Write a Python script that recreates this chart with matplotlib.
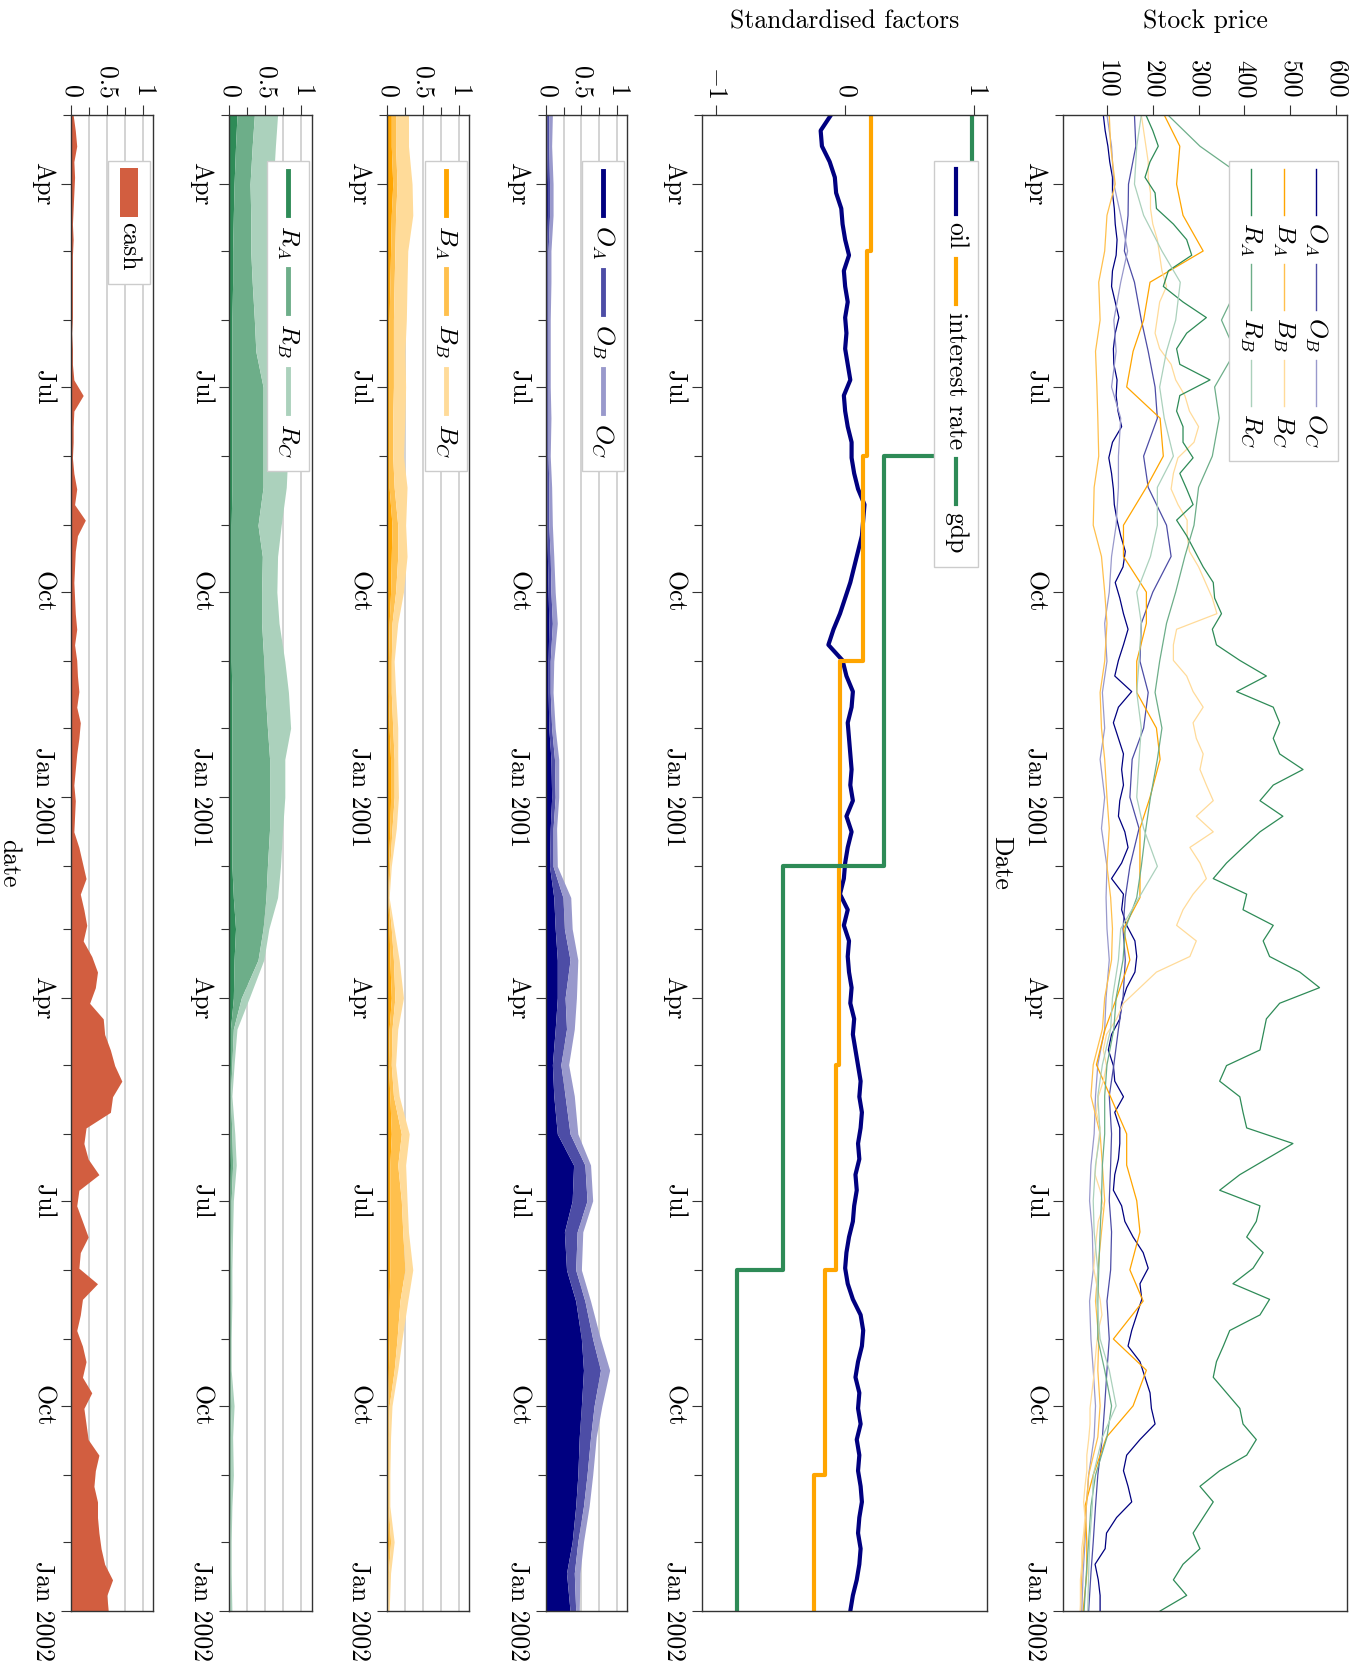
import numpy as np
import pandas as pd
import matplotlib
matplotlib.use('Agg')
import matplotlib.pyplot as plt
import matplotlib.dates as mdates
import matplotlib.transforms as mtransforms
from matplotlib.lines import Line2D
from matplotlib.patches import Rectangle

plt.rcParams['font.family'] = 'cmr10'
plt.rcParams['mathtext.fontset'] = 'cm'
plt.rcParams['axes.formatter.use_mathtext'] = True
plt.rcParams['font.size'] = 18.5

# ---- time grids -------------------------------------------------------
weeks = pd.date_range('2000-03-01', '2002-01-01', periods=97)
starts = pd.date_range('2000-03-01', '2002-01-01', freq='MS')
halfmonths = starts.union(starts[:-1] + pd.Timedelta(days=14))

# ---- stock prices (weekly) --------------------------------------------
price_RA = [185, 200, 212, 194, 183, 205, 208, 245, 274, 285,
            234, 223, 266, 317, 274, 252, 259, 325, 259, 252,
            266, 266, 288, 259, 274, 288, 252, 274, 292, 310,
            332, 335, 350, 330, 339, 390, 448, 383, 463, 477,
            463, 477, 528, 463, 434, 484, 434, 397, 361, 332,
            405, 397, 463, 441, 455, 521, 564, 477, 448, 441,
            434, 361, 346, 390, 397, 405, 506, 448, 390, 346,
            434, 426, 405, 441, 419, 375, 455, 434, 368, 354,
            339, 332, 361, 390, 397, 426, 405, 346, 303, 332,
            310, 288, 303, 266, 245, 274, 216]
price_OA = [92, 96, 102, 106, 112, 112, 116, 118, 122, 120,
            112, 110, 118, 126, 118, 114, 115, 122, 120, 124,
            132, 112, 104, 110, 114, 116, 122, 130, 140, 135,
            118, 128, 136, 146, 136, 125, 117, 154, 125, 114,
            125, 136, 132, 136, 128, 125, 139, 146, 132, 110,
            136, 132, 143, 161, 165, 161, 143, 132, 128, 110,
            103, 114, 117, 136, 117, 128, 128, 125, 117, 114,
            132, 139, 157, 179, 190, 172, 176, 165, 154, 146,
            172, 183, 194, 197, 205, 172, 143, 136, 146, 154,
            121, 99, 96, 74, 81, 85, 85]
price_BC = [175, 180, 185, 190, 190, 195, 195, 200, 210, 215,
            220, 230, 215, 210, 205, 215, 240, 250, 270, 280,
            300, 290, 255, 245, 240, 255, 275, 275, 280, 300,
            315, 330, 340, 252, 245, 245, 274, 288, 310, 288,
            295, 310, 303, 317, 332, 295, 332, 281, 303, 317,
            288, 266, 252, 295, 281, 208, 172, 136, 121, 99,
            92, 99, 92, 81, 77, 85, 81, 77, 74, 85,
            92, 81, 77, 74, 71, 77, 85, 89, 81, 77,
            74, 71, 67, 63, 63, 60, 56, 56, 52, 49,
            52, 49, 45, 45, 42, 42, 42]

# ---- stock prices (1st and 15th of each month) ------------------------
price_OB = [160, 163, 147, 146, 138, 160, 175, 190, 205, 210, 180, 190, 230, 240, 200,
            175, 172, 190, 180, 155, 150, 170, 150, 140, 135, 140, 135, 125, 115, 105,
            110, 108, 105, 110, 108, 100, 105, 100, 95, 90, 80, 75, 70, 65, 60]
price_OC = [100, 110, 115, 130, 145, 130, 115, 120, 110, 130, 125, 125, 120, 110, 105,
            95, 100, 90, 95, 85, 95, 88, 100, 98, 100, 105, 98, 95, 80, 75,
            72, 65, 62, 68, 70, 62, 65, 70, 75, 72, 60, 55, 52, 48, 45]
price_BA = [225, 259, 252, 266, 310, 194, 180, 157, 143, 216, 223, 186, 136, 136, 186,
            186, 165, 165, 208, 216, 194, 172, 172, 172, 136, 150, 121, 96, 77, 107,
            143, 143, 165, 172, 150, 179, 114, 186, 157, 99, 70, 52, 56, 56, 48]
price_BB = [105, 108, 118, 100, 95, 82, 85, 75, 78, 80, 82, 72, 70, 88, 95,
            100, 95, 85, 88, 95, 100, 105, 100, 108, 112, 110, 95, 90, 70, 65,
            85, 90, 95, 88, 80, 75, 82, 80, 85, 80, 60, 55, 50, 45, 42]
price_RB = [233, 303, 420, 400, 430, 390, 350, 380, 335, 345, 330, 300, 290, 270, 250,
            230, 215, 205, 220, 210, 195, 185, 175, 165, 140, 135, 120, 115, 100, 95,
            95, 90, 88, 85, 82, 80, 80, 95, 110, 100, 75, 65, 60, 55, 50]
price_RC = [175, 165, 160, 180, 220, 260, 250, 230, 215, 225, 245, 210, 210, 195, 165,
            175, 170, 165, 175, 170, 165, 180, 210, 170, 130, 125, 112, 108, 90, 80,
            85, 75, 70, 72, 80, 78, 85, 105, 120, 90, 70, 68, 62, 60, 58]

# ---- standardised factors ---------------------------------------------
oil = [-0.11, -0.19, -0.18, -0.12, -0.08, -0.07, -0.03, -0.02, 0.00, 0.03,
       -0.01, 0.00, 0.02, 0.00, 0.01, 0.00, 0.02, 0.04, -0.01, 0.00,
       0.02, 0.05, 0.05, 0.07, 0.10, 0.15, 0.14, 0.13, 0.10, 0.07,
       0.04, 0.00, -0.04, -0.09, -0.13, -0.02, 0.01, 0.06, 0.05, 0.02,
       0.03, 0.04, 0.05, 0.04, 0.06, 0.01, 0.05, 0.02, 0.00, -0.01,
       -0.04, 0.02, -0.01, 0.03, 0.02, 0.03, 0.05, 0.04, 0.07, 0.06,
       0.08, 0.10, 0.12, 0.11, 0.13, 0.12, 0.10, 0.11, 0.08, 0.09,
       0.07, 0.06, 0.03, 0.01, 0.00, 0.02, 0.06, 0.12, 0.14, 0.13,
       0.10, 0.08, 0.11, 0.10, 0.12, 0.09, 0.11, 0.10, 0.12, 0.13,
       0.11, 0.10, 0.12, 0.11, 0.09, 0.06, 0.04]
rate_dates = pd.to_datetime(['2000-03-01', '2000-05-01', '2000-08-01', '2000-11-01',
                             '2001-02-01', '2001-05-01', '2001-08-01', '2001-11-01',
                             '2002-01-01'])
rate = [0.20, 0.17, 0.14, -0.04, -0.05, -0.07, -0.16, -0.24, -0.24]
gdp_dates = pd.to_datetime(['2000-03-01', '2000-08-01', '2001-02-01', '2001-08-01', '2002-01-01'])
gdp = [0.98, 0.30, -0.48, -0.84, -0.84]

# ---- portfolio weights (1st and 15th of each month) -------------------
w_OA = [.01, .01, .02, .02, .01, .01, .01, .01, .01, .01, .01, .01, .01, .02, .03,
        .04, .03, .03, .04, .07, .08, .06, .05, .11, .13, .16, .16, .13, .09, .11,
        .16, .39, .37, .26, .29, .42, .50, .53, .50, .47, .45, .42, .37, .29, .34]
w_OB = [.03, .03, .03, .03, .02, .02, .02, .02, .02, .02, .02, .03, .03, .04, .04,
        .05, .03, .03, .04, .05, .05, .04, .05, .13, .13, .18, .11, .16, .12, .16,
        .18, .16, .21, .18, .13, .13, .16, .24, .18, .16, .13, .11, .08, .11, .08]
w_OC = [.05, .04, .05, .05, .04, .04, .03, .03, .03, .04, .03, .04, .05, .05, .06,
        .07, .05, .04, .05, .06, .05, .05, .06, .11, .11, .11, .16, .11, .11, .13,
        .11, .08, .08, .08, .08, .08, .11, .13, .11, .08, .08, .08, .08, .08, .05]
w_BA = [.06, .06, .08, .06, .05, .04, .03, .03, .03, .03, .03, .03, .07, .06, .05,
        .03, .02, .02, .03, .05, .05, .04, .02, .01, .03, .04, .06, .03, .02, .04,
        .06, .04, .04, .04, .04, .03, .03, .02, .01, .01, .01, .01, .02, .01, .00]
w_BB = [.06, .06, .06, .06, .06, .06, .06, .06, .06, .05, .05, .07, .08, .09, .07,
        .04, .04, .04, .05, .05, .05, .03, .02, .01, .03, .05, .05, .04, .04, .05,
        .14, .11, .16, .18, .21, .15, .11, .08, .02, .01, .01, .01, .03, .01, .01]
w_BC = [.18, .18, .21, .24, .18, .18, .18, .16, .17, .17, .15, .18, .11, .13, .11,
        .08, .04, .06, .07, .05, .06, .06, .02, .01, .04, .08, .12, .08, .06, .08,
        .11, .11, .08, .08, .11, .11, .07, .05, .04, .03, .02, .02, .05, .03, .02]
w_RA = [.11, .09, .07, .06, .05, .05, .04, .04, .04, .04, .04, .04, .03, .03, .03,
        .03, .03, .04, .04, .04, .04, .04, .04, .06, .09, .07, .06, .02, .02, .01,
        .01, .02, .01, .01, .01, .01, .01, .01, .01, .01, .01, .01, .00, .00, .00]
w_RB = [.24, .23, .22, .24, .25, .27, .31, .33, .43, .43, .43, .43, .37, .43, .42,
        .42, .45, .46, .49, .52, .52, .52, .49, .45, .38, .33, .11, .04, .02, .01,
        .03, .03, .02, .02, .01, .01, .01, .01, .02, .01, .01, .01, .01, .01, .01]
w_RC = [.32, .32, .32, .29, .29, .26, .26, .26, .26, .29, .34, .32, .32, .21, .21,
        .24, .29, .32, .32, .21, .21, .18, .18, .16, .08, .08, .11, .05, .03, .02,
        .04, .05, .03, .02, .02, .02, .01, .01, .04, .03, .04, .02, .02, .02, .03]
# cash weight (weekly)
w_cash = [0.03, 0.06, 0.08, 0.04, 0.05, 0.04, 0.03, 0.02, 0.03, 0.02,
          0.02, 0.02, 0.02, 0.02, 0.01, 0.02, 0.02, 0.04, 0.17, 0.04,
          0.03, 0.03, 0.02, 0.04, 0.08, 0.05, 0.20, 0.09, 0.06, 0.05,
          0.04, 0.05, 0.06, 0.08, 0.05, 0.08, 0.09, 0.11, 0.08, 0.13,
          0.11, 0.08, 0.06, 0.04, 0.06, 0.05, 0.04, 0.11, 0.16, 0.21,
          0.13, 0.18, 0.22, 0.17, 0.29, 0.37, 0.34, 0.26, 0.45, 0.47,
          0.55, 0.61, 0.71, 0.58, 0.55, 0.21, 0.18, 0.24, 0.39, 0.11,
          0.08, 0.16, 0.24, 0.13, 0.11, 0.37, 0.16, 0.13, 0.08, 0.16,
          0.21, 0.16, 0.29, 0.18, 0.21, 0.24, 0.39, 0.34, 0.32, 0.37,
          0.37, 0.39, 0.42, 0.47, 0.58, 0.50, 0.52]

# ---- colours ------------------------------------------------------------
navy = ['#000080', '#4d4da6', '#9999cc']
orange = ['#ffa500', '#ffc04d', '#ffdb99']
green = ['#2e8b57', '#6dae89', '#abd1bc']
cash_col = '#d25e40'

wk = mdates.date2num(weeks.to_pydatetime())
hm = mdates.date2num(halfmonths.to_pydatetime())
d_start = mdates.date2num(pd.Timestamp('2000-03-01'))
d_end = mdates.date2num(pd.Timestamp('2002-01-01'))

# quarter ticks with labels, monthly minor ticks
quarters = pd.date_range('2000-04-01', '2002-01-01', freq='QS')
q_ticks = mdates.date2num(quarters.to_pydatetime())
q_labels = [('Jan %d' % d.year) if d.month == 1 else d.strftime('%b') for d in quarters]
m_ticks = mdates.date2num(starts.to_pydatetime())

W, H = 1362, 1670
TOP, BOT = 115, 1611
fig = plt.figure(figsize=(W / 100, H / 100), dpi=100)
px = mtransforms.Affine2D().scale(1 / W, -1 / H).translate(0, 1) + fig.transFigure


def panel(x0, x1, xlim, ticks, labels, minor=None):
    ax = fig.add_axes([x0 / W, 1 - BOT / H, (x1 - x0) / W, (BOT - TOP) / H])
    ax.set_xlim(*xlim)
    ax.set_ylim(d_end, d_start)
    ax.xaxis.tick_top()
    ax.set_xticks(ticks, labels)
    if minor is not None:
        ax.set_xticks(minor, minor=True)
    ax.tick_params(axis='x', which='both', top=True, bottom=False, labelrotation=-90,
                   pad=5, width=0.8, color='#333333')
    ax.tick_params(axis='x', which='major', length=7)
    ax.tick_params(axis='x', which='minor', length=5.5)
    ax.set_yticks(q_ticks, q_labels, rotation=-90, va='center')
    ax.set_yticks(m_ticks, minor=True)
    ax.tick_params(axis='y', which='both', pad=4, width=0.8, color='#333333')
    ax.tick_params(axis='y', which='major', length=7.5)
    ax.tick_params(axis='y', which='minor', length=5.5)
    for s in ax.spines.values():
        s.set_color('#333333')
        s.set_linewidth(1.0)
    return ax


def stack(ax, series, colors):
    base = np.zeros(len(hm))
    for s, c in zip(series, colors):
        top = base + np.array(s)
        ax.fill_betweenx(hm, base, top, color=c, lw=0)
        base = top


frac_ticks = [0, 0.5, 1]
frac_labels = ['0', '0.5', '1']

# stock prices
ax_s = panel(1063, 1347, (4, 624), [100, 200, 300, 400, 500, 600],
             ['100', '200', '300', '400', '500', '600'])
ax_s.plot(price_OA, wk, color=navy[0], lw=0.9)
ax_s.plot(price_OB, hm, color=navy[1], lw=0.9)
ax_s.plot(price_OC, hm, color=navy[2], lw=0.9)
ax_s.plot(price_BA, hm, color=orange[0], lw=0.9)
ax_s.plot(price_BB, hm, color=orange[1], lw=0.9)
ax_s.plot(price_BC, wk, color=orange[2], lw=0.9)
ax_s.plot(price_RA, wk, color=green[0], lw=0.9)
ax_s.plot(price_RB, hm, color=green[1], lw=0.9)
ax_s.plot(price_RC, hm, color=green[2], lw=0.9)
ax_s.xaxis.set_label_position('top')
ax_s.set_xlabel('Stock price', va='center')
ax_s.xaxis.set_label_coords(0.5, 1 + (TOP - 21.5) / (BOT - TOP))
ax_s.set_ylabel('Date', rotation=-90, va='center', ha='center')
ax_s.yaxis.set_label_coords((1001 - 1063) / 284, 0.5)

# factors; the value is the x coordinate, so 'steps-pre' holds it until the next date
ax_f = panel(702, 987, (-1.11, 1.10), [-1, 0, 1], ['$-1$', '0', '1'])
ax_f.plot(oil, wk, color=navy[0], lw=3)
ax_f.plot(rate, mdates.date2num(rate_dates.to_pydatetime()), color=orange[0], lw=3,
          drawstyle='steps-pre')
ax_f.plot(gdp, mdates.date2num(gdp_dates.to_pydatetime()), color=green[0], lw=3,
          drawstyle='steps-pre')
ax_f.xaxis.set_label_position('top')
ax_f.set_xlabel('Standardised factors', va='center')
ax_f.xaxis.set_label_coords(0.5, 1 + (TOP - 21.5) / (BOT - TOP))

# allocation panels
ax_o = panel(546, 627, (0, 1.145), frac_ticks, frac_labels, minor=[0.25, 0.75])
ax_b = panel(387, 469, (0, 1.145), frac_ticks, frac_labels, minor=[0.25, 0.75])
ax_r = panel(229, 312, (0, 1.145), frac_ticks, frac_labels, minor=[0.25, 0.75])
ax_c = panel(71, 153, (0, 1.145), frac_ticks, frac_labels, minor=[0.25, 0.75])
for ax in (ax_o, ax_b, ax_r, ax_c):
    ax.grid(axis='x', which='both', color='#cccccc', lw=1.2)
    ax.set_axisbelow(True)
stack(ax_o, [w_OA, w_OB, w_OC], navy)
stack(ax_b, [w_BA, w_BB, w_BC], orange)
stack(ax_r, [w_RA, w_RB, w_RC], green)
ax_c.fill_betweenx(wk, 0, w_cash, color=cash_col, lw=0)
ax_c.set_ylabel('date', rotation=-90, va='center', ha='center')
ax_c.yaxis.set_label_coords((9 - 71) / 82, 0.5)

# ---- legends, laid out along the date direction -------------------------
rend = fig.canvas.get_renderer()


def side_legend(right, top, rows, kind='line', lw=1.0, inset=22, step=32.5,
                hlen=46, gap=5, sep=6, pad0=8, pad1=13):
    ncol = max(len(r) for r in rows)
    texts = [[fig.text(0, 0, lab, transform=px, rotation=-90, ha='center', va='top',
                       zorder=6) for lab, _ in r] for r in rows]
    lens = [max(texts[i][j].get_window_extent(rend).height
                for i in range(len(rows)) if j < len(rows[i])) for j in range(ncol)]
    y = top + pad0
    ys = []
    for j in range(ncol):
        ys.append(y)
        y += hlen + gap + lens[j] + sep
    bottom = y - sep + pad1
    left = right - 2 * inset - (len(rows) - 1) * step
    fig.add_artist(Rectangle((left, top), right - left, bottom - top, transform=px,
                             fc='white', ec='#cccccc', lw=1.0, zorder=4))
    for i, r in enumerate(rows):
        xc = right - inset - i * step
        for j, (lab, col) in enumerate(r):
            y0 = ys[j]
            if kind == 'line':
                fig.add_artist(Line2D([xc, xc], [y0, y0 + hlen], transform=px,
                                      color=col, lw=lw, zorder=5))
            else:
                fig.add_artist(Rectangle((xc - 9, y0), 18, hlen, transform=px,
                                         fc=col, lw=0, zorder=5))
            texts[i][j].set_position((xc, y0 + hlen + gap))


side_legend(1338, 161, [[('$O_A$', navy[0]), ('$O_B$', navy[1]), ('$O_C$', navy[2])],
                        [('$B_A$', orange[0]), ('$B_B$', orange[1]), ('$B_C$', orange[2])],
                        [('$R_A$', green[0]), ('$R_B$', green[1]), ('$R_C$', green[2])]],
            lw=1.0, gap=7, sep=7.5)
side_legend(978, 161, [[('oil', navy[0]), ('interest rate', orange[0]), ('gdp', green[0])]],
            lw=3, hlen=45, gap=8, sep=10)
side_legend(624, 161, [[('$O_A$', navy[0]), ('$O_B$', navy[1]), ('$O_C$', navy[2])]],
            lw=3.5, inset=21, hlen=44, pad0=10, gap=10, sep=10)
side_legend(467, 161, [[('$B_A$', orange[0]), ('$B_B$', orange[1]), ('$B_C$', orange[2])]],
            lw=3.5, inset=21, hlen=44, pad0=10, gap=10, sep=10)
side_legend(309, 161, [[('$R_A$', green[0]), ('$R_B$', green[1]), ('$R_C$', green[2])]],
            lw=3.5, inset=21, hlen=44, pad0=10, gap=10, sep=10)
side_legend(150, 161, [[('cash', cash_col)]], kind='patch', inset=21, hlen=49, pad0=7)

fig.savefig('out.png', dpi=100)
